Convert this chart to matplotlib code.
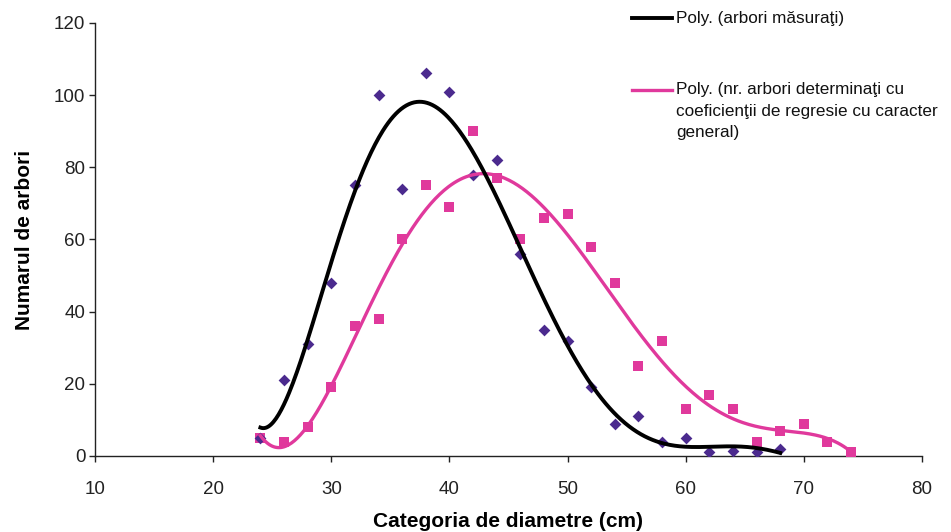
import numpy as np
import matplotlib
matplotlib.use("Agg")
import matplotlib.pyplot as plt
from matplotlib.lines import Line2D

plt.rcParams['font.family'] = ['Liberation Sans', 'DejaVu Sans']

# Measured trees (diamonds)
x_meas = [24, 26, 28, 30, 32, 34, 36, 38, 40, 42, 44, 46, 48, 50, 52, 54, 56, 58, 60, 62, 64, 66, 68]
y_meas = [5, 21, 31, 48, 75, 100, 74, 106, 101, 78, 82, 56, 35, 32, 19, 9, 11, 4, 5, 1, 1.5, 1, 2]

# Trees determined with general regression coefficients (squares)
x_det = [24, 26, 28, 30, 32, 34, 36, 38, 40, 42, 44, 46, 48, 50, 52, 54, 56, 58, 60, 62, 64, 66, 68, 70, 72, 74]
y_det = [5, 4, 8, 19, 36, 38, 60, 75, 69, 90, 77, 60, 66, 67, 58, 48, 25, 32, 13, 17, 13, 4, 7, 9, 4, 1]

label_meas = "Poly. (arbori măsuraţi)"
label_det = "Poly. (nr. arbori determinaţi cu\ncoeficienţii de regresie cu caracter\ngeneral)"

poly_degree = 6
purple = "#4B2A8E"
magenta = "#E0399C"

fig = plt.figure(figsize=(9.51, 5.32), dpi=100)
ax = fig.add_axes([0.0999, 0.1429, 0.8696, 0.8139])

ax.scatter(x_det, y_det, marker='s', s=42, color=magenta, zorder=3, linewidths=0)
ax.scatter(x_meas, y_meas, marker='D', s=36, color=purple, zorder=4, linewidths=0)

def trend(x, y):
    c = np.polyfit(x, y, poly_degree)
    xs = np.linspace(min(x), max(x), 400)
    return xs, np.polyval(c, xs)

xs1, ys1 = trend(x_meas, y_meas)
xs2, ys2 = trend(x_det, y_det)
ax.plot(xs2, ys2, color=magenta, lw=2.4, zorder=5)
ax.plot(xs1, ys1, color='black', lw=2.8, zorder=6)

ax.set_xlim(10, 80)
ax.set_ylim(0, 120)
ax.set_xticks(range(10, 81, 10))
ax.set_yticks(range(0, 121, 20))
for s in ['top', 'right']:
    ax.spines[s].set_visible(False)
for s in ['left', 'bottom']:
    ax.spines[s].set_color('#222222')
    ax.spines[s].set_linewidth(1.0)
ax.tick_params(direction='out', length=4, width=1, colors='#222222', labelsize=13.5)
ax.tick_params(axis='x', pad=14)
ax.tick_params(axis='y', pad=3)
ax.set_xlabel("Categoria de diametre (cm)", fontsize=15, fontweight='bold', labelpad=10)
ax.set_ylabel("Numarul de arbori", fontsize=15, fontweight='bold', labelpad=14)

# legend drawn manually in figure coordinates
W, H = 951, 532
def fx(px): return px / W
def fy(py): return 1 - py / H
fig.add_artist(Line2D([fx(632), fx(672)], [fy(18), fy(18)], color='black', lw=2.8))
fig.text(fx(676), fy(18), label_meas, fontsize=12.3, va='center', ha='left', color='#111111')
fig.add_artist(Line2D([fx(632), fx(672)], [fy(90), fy(90)], color=magenta, lw=2.4))
fig.text(fx(676), fy(82), label_det, fontsize=12.3, va='top', ha='left',
         color='#111111', linespacing=1.55)

fig.savefig("out.png", dpi=100)
